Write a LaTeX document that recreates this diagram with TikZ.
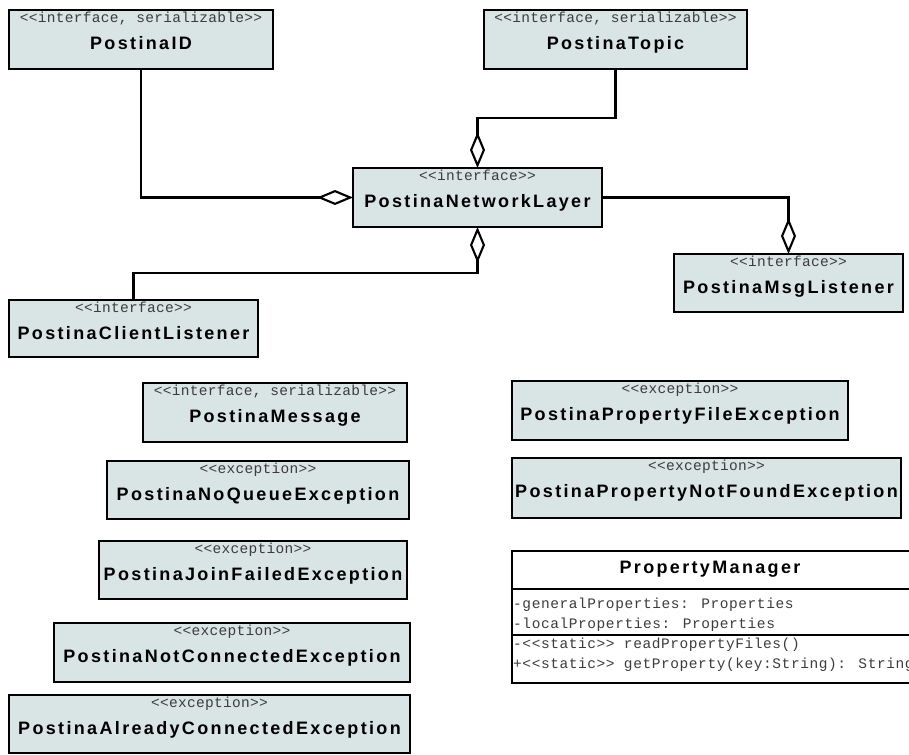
\documentclass[tikz,border=0pt]{standalone}
\usepackage{fontspec}
\newfontfamily\clsfont[LetterSpace=13]{Liberation Sans}
\newfontfamily\stfont[LetterSpace=2]{Liberation Mono}
\newfontfamily\mbfont[LetterSpace=4]{Liberation Mono}
\usetikzlibrary{arrows.meta,calc,fit}
\definecolor{boxfill}{RGB}{217,228,228}
\definecolor{stgray}{RGB}{60,60,60}

\tikzset{
  umlbox/.style={draw=black, fill=boxfill, line width=2.3pt, inner sep=0pt, outer sep=0pt},
  plainbox/.style={umlbox, fill=white},
  stereo/.style={font=\stfont\fontsize{14.5}{14.5}\selectfont, text=stgray, inner sep=0pt, anchor=base},
  clsname/.style={font=\clsfont\bfseries\fontsize{18}{18}\selectfont, inner sep=0pt, anchor=base},
  member/.style={font=\mbfont\fontsize{14.5}{14.5}\selectfont, text=stgray, inner sep=0pt, anchor=base west},
  divider/.style={line width=2.1pt},
  link/.style={line width=2.1pt},
  agg/.style={link, {Diamond[fill=white, length=36pt, width=15pt]}-}
}

% class box: name, x1, y1, x2, y2, stereotype, class name
\newcommand\umlclass[7]{%
  \node[umlbox, fit={(#2,#3) (#4,#5)}] (#1) {};
  \node[stereo] (#1-st) at ($(#1.north)+(0,12.5)$) {#6};
  \node[clsname] (#1-nm) at ($(#1.north)+(0,39.5)$) {#7};
}
\newcommand\ifc{<{}<interface>{}>}
\newcommand\ifcser{<{}<interface, serializable>{}>}
\newcommand\exc{<{}<exception>{}>}

\begin{document}
\begin{tikzpicture}[x=1pt, y=-1pt]
\useasboundingbox (0,0) rectangle (909,754);

\umlclass{id}{9}{10}{273}{69}{\ifcser}{PostinaID}
\umlclass{topic}{484}{10}{747}{69}{\ifcser}{PostinaTopic}
\umlclass{nl}{353}{168}{602}{227}{\ifc}{PostinaNetworkLayer}
\umlclass{ml}{674}{254}{903}{312}{\ifc}{PostinaMsgListener}
\umlclass{cl}{9}{300}{258}{357}{\ifc}{PostinaClientListener}

\umlclass{msg}{143}{383}{407}{442}{\ifcser}{PostinaMessage}
\umlclass{nq}{107}{461}{409}{519}{\exc}{PostinaNoQueueException}
\umlclass{jf}{99}{541}{407}{599}{\exc}{PostinaJoinFailedException}
\umlclass{nc}{54}{623}{410}{682}{\exc}{PostinaNotConnectedException}
\umlclass{ac}{9}{695}{410}{753}{\exc}{PostinaAlreadyConnectedException}

\umlclass{pfe}{512}{381}{848}{440}{\exc}{PostinaPropertyFileException}
\umlclass{pnf}{512}{458}{901}{518}{\exc}{PostinaPropertyNotFoundException}

% PropertyManager class with attributes and operations
\node[plainbox, fit={(512,551) (912,683)}] (pm) {};
\node[clsname] (pm-nm) at (710,573) {PropertyManager};
\draw[divider] (512,589) -- (912,589);
\draw[divider] (512,635) -- (912,635);
\node[member] (pm-a1) at (513,608) {-generalProperties: Properties};
\node[member] (pm-a2) at (513,628) {-localProperties: Properties};
\node[member] (pm-o1) at (513,648) {-<{}<static>{}> readPropertyFiles()};
\node[member] (pm-o2) at (513,668) {+<{}<static>{}> getProperty(key:String): String};

% aggregations onto the network layer
\draw[agg] (nl.west) -| (id.south);
\draw[agg] (nl.north) -- ++(0,-50) -| (topic.south);
\draw[agg] (nl.south) -- ++(0,46) -| (cl.north);
\draw[agg] (ml.north) |- (nl.east);
\end{tikzpicture}
\end{document}
